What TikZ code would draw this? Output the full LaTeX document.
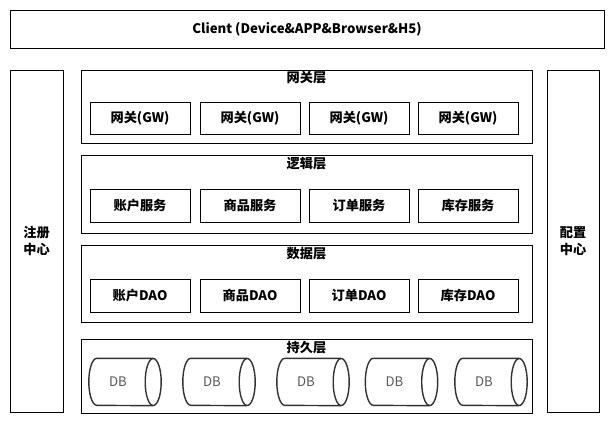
\documentclass[tikz,border=0pt]{standalone}
\usepackage{fontspec}
\setmainfont{Noto Sans CJK SC}
\begin{document}
\begin{tikzpicture}[x=1pt,y=-1pt,
  box/.style={draw=black,line width=0.9pt,fill=white,inner sep=0pt},
  item/.style={box,minimum width=100pt,minimum height=32pt,font=\fontsize{13.2}{15}\selectfont\bfseries},
  layertitle/.style={font=\fontsize{13.2}{15}\selectfont\bfseries,inner sep=0pt},
  dbbox/.style={draw=none,minimum width=72pt,minimum height=47pt,inner sep=0pt},
  dbtext/.style={inner sep=0pt,text=black!65,font=\fontsize{13.2}{15}\selectfont},
  dbline/.style={draw=black!80,line width=1.4pt}
]
\useasboundingbox (0,0) rectangle (609,429);
\fill[white] (0,0) rectangle (609,429);
% client
\node[box,minimum width=594pt,minimum height=38pt,font=\fontsize{13.2}{15}\selectfont\bfseries] (client) at (307,29) {Client (Device\&APP\&Browser\&H5)};
% side boxes
\node[box,minimum width=53pt,minimum height=342pt,align=center,font=\fontsize{13.2}{16.5}\selectfont\bfseries] (reg) at (36.5,241) {注册\\中心};
\node[box,minimum width=52pt,minimum height=342pt,align=center,font=\fontsize{13.2}{16.5}\selectfont\bfseries] (cfg) at (573,241) {配置\\中心};
% layers
\node[box,minimum width=451pt,minimum height=73pt] (gwl) at (306.5,106.5) {};
\node[layertitle] (gwt) at (306.5,77.5) {网关层};
\node[item] (gw1) at (140,118) {网关(GW)};
\node[item] (gw2) at (250,118) {网关(GW)};
\node[item] (gw3) at (359,118) {网关(GW)};
\node[item] (gw4) at (468,118) {网关(GW)};

\node[box,minimum width=451pt,minimum height=78pt] (lgl) at (306.5,194) {};
\node[layertitle] (lgt) at (306.5,164) {逻辑层};
\node[item,minimum height=33pt] (s1) at (140,205.5) {账户服务};
\node[item,minimum height=33pt] (s2) at (250,205.5) {商品服务};
\node[item,minimum height=33pt] (s3) at (359,205.5) {订单服务};
\node[item,minimum height=33pt] (s4) at (468,205.5) {库存服务};

\node[box,minimum width=451pt,minimum height=77pt] (dtl) at (306.5,283.5) {};
\node[layertitle] (dtt) at (306.5,254) {数据层};
\node[item,minimum height=33pt] (d1) at (140,295.5) {账户DAO};
\node[item,minimum height=33pt] (d2) at (250,295.5) {商品DAO};
\node[item,minimum height=33pt] (d3) at (359,295.5) {订单DAO};
\node[item,minimum height=33pt] (d4) at (468,295.5) {库存DAO};

\node[box,minimum width=451pt,minimum height=74pt] (psl) at (306.5,376) {};
\node[layertitle] (pst) at (306.5,348) {持久层};
\node[dbbox] (db1) at (125,382) {};
\node[dbbox] (db2) at (219,382) {};
\node[dbbox] (db3) at (313,382) {};
\node[dbbox] (db4) at (401.5,382) {};
\node[dbbox] (db5) at (491,382) {};
\foreach \n in {db1,db2,db3,db4,db5}{
  \draw[dbline] ([xshift=-8pt]\n.east) ellipse [x radius=8pt, y radius=23.5pt];
  \draw[dbline] ([xshift=-8pt]\n.north east) -- ([xshift=8pt]\n.north west)
     arc[start angle=90, end angle=270, x radius=8pt, y radius=23.5pt]
     -- ([xshift=-8pt]\n.south east);
  \node[dbtext] (\n t) at ([xshift=-7pt]\n.center) {DB};
}
\end{tikzpicture}
\end{document}
